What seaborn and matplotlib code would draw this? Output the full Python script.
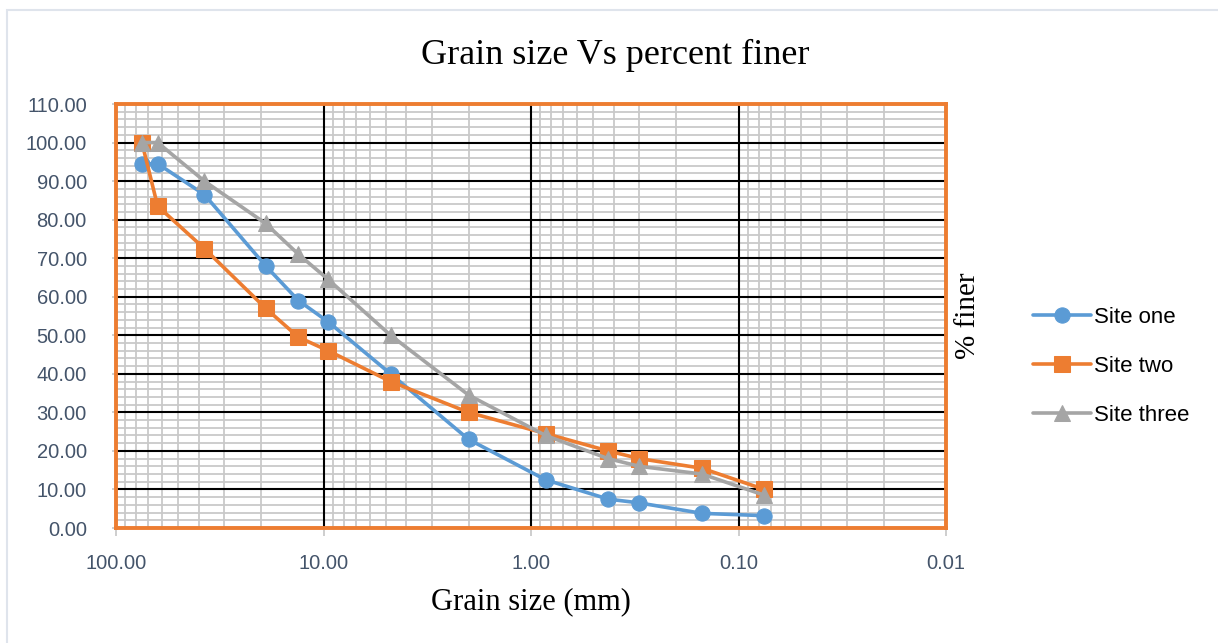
import matplotlib
matplotlib.use("Agg")
import matplotlib.pyplot as plt
import matplotlib.patches as mpatches
from matplotlib.ticker import FixedLocator, FuncFormatter, MultipleLocator
import numpy as np
import pandas as pd
import seaborn as sns

# ---- data ----
grain_size = [75, 63, 37.5, 19, 13.2, 9.5, 4.75, 2.0, 0.85, 0.425, 0.3, 0.15, 0.075]
site_one = [94.5, 94.5, 86.5, 68.0, 59.0, 53.5, 40.0, 23.0, 12.5, 7.5, 6.5, 3.8, 3.2]
site_two = [100.0, 83.5, 72.5, 57.0, 49.5, 46.0, 38.0, 30.0, 24.5, 20.0, 18.0, 15.5, 10.0]
site_three = [100.0, 100.0, 90.0, 79.0, 71.0, 64.5, 50.0, 34.5, 24.0, 18.0, 16.0, 14.0, 8.5]
series_names = ["Site one", "Site two", "Site three"]
x_ticks = [100, 10, 1, 0.1, 0.01]
y_major = list(range(0, 111, 10))

colors = ["#5B9BD5", "#ED7D31", "#A5A5A5"]
markers = ["o", "s", "^"]

df = pd.DataFrame({
    "size": grain_size * 3,
    "finer": site_one + site_two + site_three,
    "site": sum([[n] * len(grain_size) for n in series_names], []),
})

sns.set_theme(style="white")
plt.rcParams["font.family"] = ["Liberation Sans", "DejaVu Sans"]

fig = plt.figure(figsize=(12.18, 6.43), dpi=100)
ax = fig.add_axes([116 / 1218, 1 - 528 / 643, (946 - 116) / 1218, (528 - 104) / 643])

# outer chart border
fig.patches.append(mpatches.Rectangle((7 / 1218, -0.01), 1.05, 1 - 10 / 643 + 0.01,
                                      transform=fig.transFigure, fill=False,
                                      edgecolor="#dfe4ec", linewidth=1.5))

for name, c, m in zip(series_names, colors, markers):
    sns.lineplot(data=df[df["site"] == name], x="size", y="finer", ax=ax,
                 sort=False, color=c, marker=m, markersize=11, linewidth=2.6,
                 markeredgecolor=c, label=name, zorder=5)

ax.set_xscale("log")
ax.set_xlim(100, 0.01)
ax.set_ylim(0, 110)

ax.xaxis.set_major_locator(FixedLocator(x_ticks))
minor = [k * 10.0 ** e for e in range(-2, 2) for k in range(2, 10)]
ax.xaxis.set_minor_locator(FixedLocator(minor))
ax.xaxis.set_major_formatter(FuncFormatter(lambda v, p: f"{v:.2f}"))
ax.xaxis.set_minor_formatter(FuncFormatter(lambda v, p: ""))
ax.yaxis.set_major_locator(FixedLocator(y_major))
ax.yaxis.set_minor_locator(MultipleLocator(2))
ax.yaxis.set_major_formatter(FuncFormatter(lambda v, p: f"{v:.2f}"))

# minor (gray) grid via axes, major (black) grid drawn above it
ax.grid(which="minor", color="#c9c9c9", linewidth=1.3)
ax.grid(which="major", visible=False)
ax.set_axisbelow(True)
ax.vlines(x_ticks, 0, 1, transform=ax.get_xaxis_transform(), colors="black",
          linewidth=1.5, zorder=1)
ax.hlines(y_major, 0, 1, transform=ax.get_yaxis_transform(), colors="black",
          linewidth=1.5, zorder=1)

for s in ax.spines.values():
    s.set_color("#ED7D31")
    s.set_linewidth(2.8)
    s.set_zorder(6)

ax.tick_params(axis="both", which="major", labelsize=14.5, labelcolor="#44546A",
               color="#c8c8c8")
ax.tick_params(axis="both", which="minor", length=0)
ax.tick_params(axis="x", bottom=True, length=6, direction="out", pad=13)
ax.tick_params(axis="y", left=True, length=6, direction="inout", pad=18)

fig.text(0.505, 1 - 55 / 643, "Grain size Vs percent finer", family="Liberation Serif",
         fontsize=26, color="black", ha="center", va="center")
fig.text(531 / 1218, 1 - 602 / 643, "Grain size (mm)", family="Liberation Serif",
         fontsize=22, color="black", ha="center", va="center")
fig.text(968 / 1218, 1 - 316 / 643, "% finer", family="Liberation Serif",
         fontsize=21, color="black", ha="center", va="center", rotation=90)
ax.set_xlabel("")
ax.set_ylabel("")

leg = ax.legend(loc="center left", bbox_to_anchor=(1.081, 0.381), frameon=False,
                fontsize=16, handlelength=2.6, labelspacing=1.25, handletextpad=0.15,
                labelcolor="black")

fig.savefig("out.png", dpi=100, facecolor="white")
